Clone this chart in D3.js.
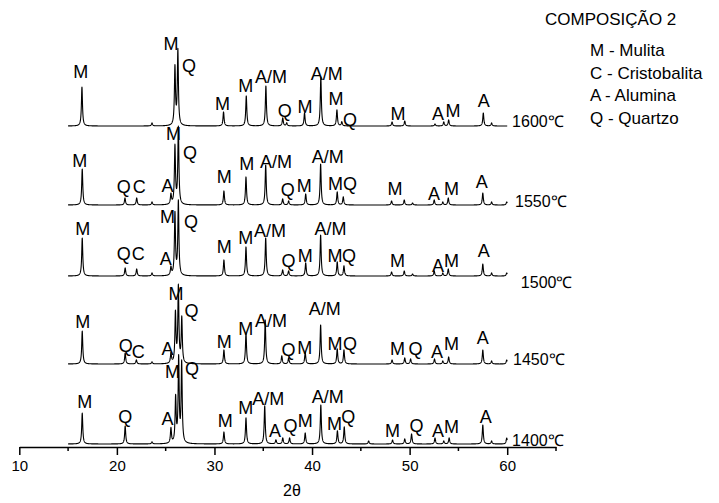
<!DOCTYPE html>
<html>
<head>
<meta charset="utf-8">
<script src="https://cdn.jsdelivr.net/npm/d3@7"></script>
<style>
body { margin: 0; background: #fff; }
text { font-family: "Liberation Sans", Arial, sans-serif; fill: #000; }
</style>
</head>
<body>
<script>
// XRD patterns, composicao 2

var width  = 719,
    height = 503;

var temps      = ["1400℃", "1450℃", "1500℃", "1550℃", "1600℃"];
var offsets    = [3, 83, 171, 242, 321];       // vertical shift of each pattern
var tempLabelX = [60.5, 60.6, 61.4, 60.8, 60.5];
var tempLabelY = [-2, -1, -12, -2, -1];

// peaks: [2theta, intensity]
var peaks1400 = [[16.45,31],[20.85,18],[23.6,2],[25.54,15],[26.02,45],[26.33,84],[26.64,80],[30.97,12],[33.23,26],[35.15,38],[36.3,4],[37.0,6],[37.7,6],[39.3,11],[40.9,39],[42.6,13],[43.3,17],[45.8,3],[48.25,4],[49.5,5],[50.2,10],[52.6,6],[53.5,3],[54.05,6],[57.5,19],[58.4,3],[59.95,6]];
var peaks1450 = [[16.45,33],[20.85,11],[22.0,4],[23.6,2],[25.54,10],[26.0,50],[26.3,76],[26.65,45],[30.97,14],[33.23,31],[35.2,44],[36.9,8],[37.6,6],[39.3,12],[40.88,39],[42.58,15],[43.27,14],[48.2,4],[49.5,6],[50.1,5],[52.55,5],[53.4,3],[54.0,7],[57.5,14],[58.4,3],[59.95,4]];
var peaks1500 = [[16.45,38],[20.85,8],[22.03,7],[23.6,3],[25.54,8],[25.95,62],[26.3,74],[30.97,16],[33.23,29],[35.25,38],[36.99,6],[37.6,5],[39.35,13],[40.88,41],[42.58,14],[43.27,10],[48.15,4],[49.45,5],[50.3,2],[52.52,5],[53.4,3],[53.96,7],[57.5,12],[58.4,3],[59.95,3]];
var peaks1550 = [[16.45,36],[20.83,7],[22.03,7],[23.6,3],[25.54,10],[25.95,58],[26.3,77],[30.97,14],[33.23,28],[35.25,40],[36.99,6],[37.6,4],[39.35,11],[40.88,41],[42.58,13],[43.2,8],[48.15,4],[49.45,5],[50.3,2],[52.52,5],[53.4,3],[53.96,7],[57.5,12],[58.4,3],[59.95,3]];
var peaks1600 = [[16.42,39],[23.6,3],[25.95,58],[26.25,75],[30.93,14],[33.26,30],[35.27,40],[37.0,8],[37.4,3],[39.23,13],[40.9,49],[42.55,16],[43.05,4],[48.2,4],[49.5,5],[52.6,2],[53.5,4],[54.0,6],[57.55,13],[58.4,3]];

// phase labels: [text, 2theta, height above pattern]
var labels1400 = [["M",16.7,36],["Q",20.85,21],["A",25.2,19],["M",25.7,66],["Q",27.7,69],["M",31.1,17],["M",33.2,30],["A/M",35.5,39],["A",36.2,7],["Q",37.8,12],["M",39.3,17],["A/M",41.6,41],["M",42.3,14],["Q",43.7,21],["M",48.24,7],["Q",50.7,12],["A",52.9,7],["M",54.3,11],["A",57.8,21]];
var labels1450 = [["M",16.5,36],["Q",20.9,12],["C",22.2,6],["A",25.2,9],["M",26.05,64],["Q",27.65,47],["M",31.0,16],["M",33.2,29],["A/M",35.8,37],["Q",37.6,8],["M",39.25,10],["A/M",41.3,49],["M",42.35,14],["Q",43.9,14],["M",48.75,9],["Q",50.6,9],["A",52.8,6],["M",54.3,14],["A",57.5,20]];
var labels1500 = [["M",16.5,41],["Q",20.7,16],["C",22.2,16],["A",25.0,11],["M",25.2,53],["Q",27.6,48],["M",31.0,23],["M",33.2,32],["A/M",35.7,39],["Q",37.6,9],["M",39.3,14],["A/M",41.9,41],["M",42.35,14],["Q",43.8,14],["M",48.75,9],["A",52.9,4],["M",54.3,9],["A",57.6,19]];
var labels1550 = [["M",16.2,38],["Q",20.7,12],["C",22.3,12],["A",25.2,13],["M",25.8,65],["Q",27.5,46],["M",31.0,22],["M",33.3,35],["A/M",36.3,37],["Q",37.5,9],["M",39.2,13],["A/M",41.6,42],["M",42.4,15],["Q",43.9,15],["M",48.5,10],["A",52.5,5],["M",54.3,10],["A",57.4,17]];
var labels1600 = [["M",16.3,48],["M",25.54,76],["Q",27.39,54],["M",30.82,16],["M",33.2,34],["A/M",35.79,43],["Q",37.2,9],["M",39.27,13],["A/M",41.5,46],["M",42.45,21],["Q",43.9,0],["M",48.8,6],["A",52.9,6],["M",54.45,9],["A",57.6,19]];

var legendTitle = "COMPOSIÇÃO 2";
var legendItems = ["M - Mulita", "C - Cristobalita", "A - Alumina", "Q - Quartzo"];
var xTicks      = [10, 20, 30, 40, 50, 60];
var xMinor      = [15, 25, 35, 45, 55, 65];

var allPeaks  = [peaks1400, peaks1450, peaks1500, peaks1550, peaks1600];
var allLabels = [labels1400, labels1450, labels1500, labels1550, labels1600];

var svg = d3.select("body").append("svg")
    .attr("width", width)
    .attr("height", height);

var x = d3.scaleLinear().domain([10, 65]).range([19.3, 556]);
var y = d3.scaleLinear().domain([0, 420]).range([447, 27]);

// peak profile (lorentzian), sampled along 2theta
var hw = 0.065;
var grid = d3.range(15, 60.001, 0.01);
var profile = function(pk) {
  return grid.map(function(t) {
    var v = 0;
    pk.forEach(function(p) {
      var u = (t - p[0]) / hw;
      v += p[1] / (1 + u * u);
    });
    return [t, v];
  });
};

allPeaks.forEach(function(pk, i) {
  var off = offsets[i];
  svg.append("path")
    .datum(profile(pk))
    .attr("fill", "none")
    .attr("stroke", "#000")
    .attr("stroke-width", 1.1)
    .attr("stroke-linejoin", "round")
    .attr("d", d3.line()
      .x(function(d) { return x(d[0]); })
      .y(function(d) { return y(d[1] + off); }));

  svg.selectAll(null)
    .data(allLabels[i])
    .enter().append("text")
    .attr("x", function(d) { return x(d[1]); })
    .attr("y", function(d) { return y(d[2] + off); })
    .attr("text-anchor", "middle")
    .attr("font-size", 18)
    .text(function(d) { return d[0]; });

  svg.append("text")
    .attr("x", x(tempLabelX[i]))
    .attr("y", y(off + tempLabelY[i]))
    .attr("font-size", 16)
    .text(temps[i]);
});

// x axis
var axis = svg.append("g")
    .attr("transform", "translate(0," + y(0) + ")")
    .call(d3.axisBottom(x).tickValues(xTicks).tickSize(8).tickSizeOuter(0).tickPadding(5));
axis.selectAll("text").attr("font-size", 15).attr("font-family", null);
axis.select(".domain").attr("stroke-width", 1.5);
axis.selectAll(".tick line").attr("stroke-width", 1.5);

svg.append("g")
    .attr("transform", "translate(0," + y(0) + ")")
    .selectAll("line")
    .data(xMinor)
    .enter().append("line")
    .attr("x1", function(d) { return x(d); })
    .attr("x2", function(d) { return x(d); })
    .attr("y1", 0)
    .attr("y2", 4)
    .attr("stroke", "#000")
    .attr("stroke-width", 1.5);

svg.append("text")
    .attr("x", 292)
    .attr("y", 496)
    .attr("text-anchor", "middle")
    .attr("font-size", 16)
    .text("2θ");

// legend
svg.append("text")
    .attr("x", 545)
    .attr("y", 25)
    .attr("font-size", 17)
    .text(legendTitle);

svg.selectAll(".leg")
    .data(legendItems)
    .enter().append("text")
    .attr("class", "leg")
    .attr("x", 590)
    .attr("y", function(d, i) { return 56 + i * 22.7; })
    .attr("font-size", 17)
    .text(function(d) { return d; });
</script>
</body>
</html>
